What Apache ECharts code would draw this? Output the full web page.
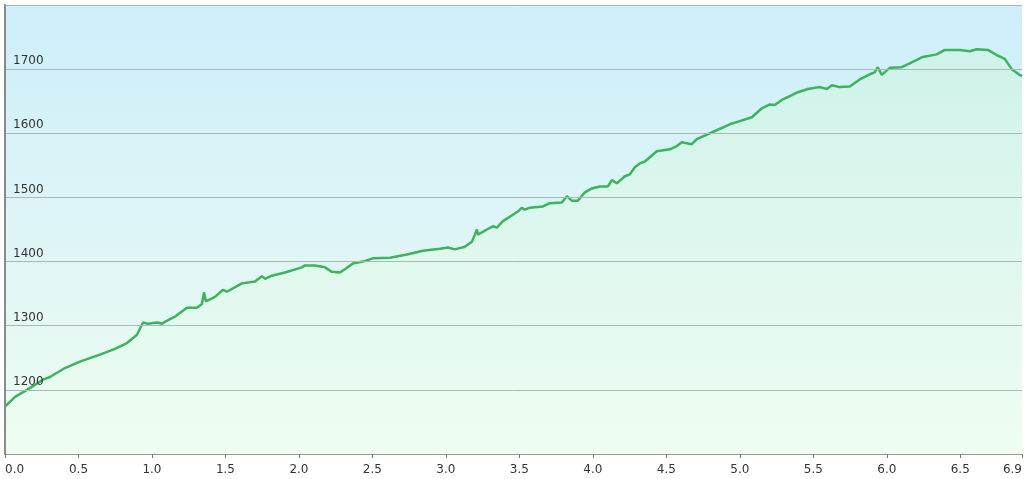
<!DOCTYPE html>
<html>
<head>
<meta charset="utf-8">
<script src="https://cdn.jsdelivr.net/npm/echarts@6/dist/echarts.min.js"></script>
<style>
html,body{margin:0;padding:0;background:#fff;}
#chart{width:1024px;height:479px;}
</style>
</head>
<body>
<div id="chart"></div>
<script>
// distance (km) along the profile
const distance = [0.000,0.068,0.150,0.259,0.306,0.408,0.510,0.646,0.748,0.830,0.898,0.939,0.973,1.034,1.068,1.088,1.156,1.238,1.306,1.340,1.354,1.367,1.429,1.483,1.510,1.612,1.701,1.748,1.769,1.816,1.905,2.020,2.041,2.109,2.177,2.224,2.279,2.313,2.367,2.435,2.503,2.619,2.735,2.844,2.959,3.014,3.061,3.129,3.177,3.197,3.211,3.218,3.279,3.320,3.347,3.388,3.456,3.490,3.517,3.537,3.571,3.660,3.707,3.789,3.823,3.857,3.898,3.946,3.993,4.048,4.102,4.129,4.163,4.218,4.252,4.286,4.320,4.354,4.435,4.524,4.571,4.605,4.673,4.707,4.816,4.932,5.000,5.082,5.150,5.204,5.238,5.293,5.340,5.395,5.463,5.544,5.592,5.626,5.680,5.748,5.816,5.884,5.918,5.939,5.966,6.020,6.102,6.156,6.245,6.340,6.395,6.497,6.565,6.612,6.687,6.748,6.803,6.850,6.905,6.920];
// elevation (m)
const elevation = [1174,1189,1200,1216,1220,1234,1244,1255,1264,1273,1286,1305,1303,1305,1303,1306,1314,1328,1328,1334,1352,1338,1345,1356,1353,1366,1369,1377,1373,1378,1383,1391,1394,1394,1391,1384,1383,1388,1397,1400,1405,1406,1411,1417,1420,1422,1419,1423,1431,1442,1450,1442,1450,1455,1453,1463,1473,1478,1484,1481,1484,1486,1491,1492,1502,1495,1495,1508,1514,1517,1517,1527,1522,1533,1536,1547,1553,1556,1572,1575,1580,1586,1583,1591,1602,1614,1619,1625,1639,1645,1644,1653,1658,1664,1669,1672,1669,1675,1672,1673,1684,1692,1695,1703,1691,1702,1703,1709,1719,1723,1730,1730,1728,1731,1730,1722,1716,1700,1691,1689];
const xMin = 0, xMax = 6.92, xInterval = 0.5;
const yMin = 1100, yMax = 1800, yInterval = 100;

const chart = echarts.init(document.getElementById('chart'), null, {renderer: 'canvas'});
const points = distance.map((d, i) => [d, elevation[i]]);

chart.setOption({
  animation: false,
  backgroundColor: '#ffffff',
  textStyle: {fontFamily: 'DejaVu Sans'},
  grid: {
    left: 5, right: 2, top: 5, bottom: 25,
    outerBoundsMode: 'none',
    containLabel: false,
    show: true,
    borderWidth: 0,
    backgroundColor: new echarts.graphic.LinearGradient(0, 0, 0, 1, [
      {offset: 0, color: '#cdeefa'},
      {offset: 1, color: '#eefcf1'}
    ])
  },
  xAxis: {
    type: 'value',
    min: xMin, max: xMax, interval: xInterval,
    z: 3,
    axisLine: {show: true, onZero: false, lineStyle: {color: '#9a9a9a', width: 1}},
    axisTick: {show: true, length: 4, lineStyle: {color: '#777'}},
    splitLine: {show: false},
    axisLabel: {
      color: '#333', fontSize: 12, margin: 10, fontFamily: 'DejaVu Sans',
      alignMinLabel: 'left',
      alignMaxLabel: 'right',
      formatter: v => v.toFixed(1)
    }
  },
  yAxis: {
    type: 'value',
    min: yMin, max: yMax, interval: yInterval,
    z: 3,
    axisLine: {show: true, lineStyle: {color: '#8a8a8a', width: 2}},
    axisTick: {show: false},
    splitLine: {show: true, lineStyle: {color: '#adb7ba', width: 1}},
    axisLabel: {
      inside: true, margin: 8, color: '#333', fontSize: 12, fontFamily: 'DejaVu Sans',
      verticalAlign: 'bottom', padding: [0, 0, 2, 0],
      showMinLabel: false, showMaxLabel: false,
      formatter: v => String(v)
    }
  },
  series: [{
    type: 'line',
    z: 2,
    data: points,
    showSymbol: false,
    smooth: false,
    lineStyle: {color: '#3cb35c', width: 2.5},
    areaStyle: {
      color: new echarts.graphic.LinearGradient(0, 0, 0, 1, [
        {offset: 0, color: '#cff3e4'},
        {offset: 1, color: '#effdf2'}
      ])
    }
  }]
});
</script>
</body>
</html>
